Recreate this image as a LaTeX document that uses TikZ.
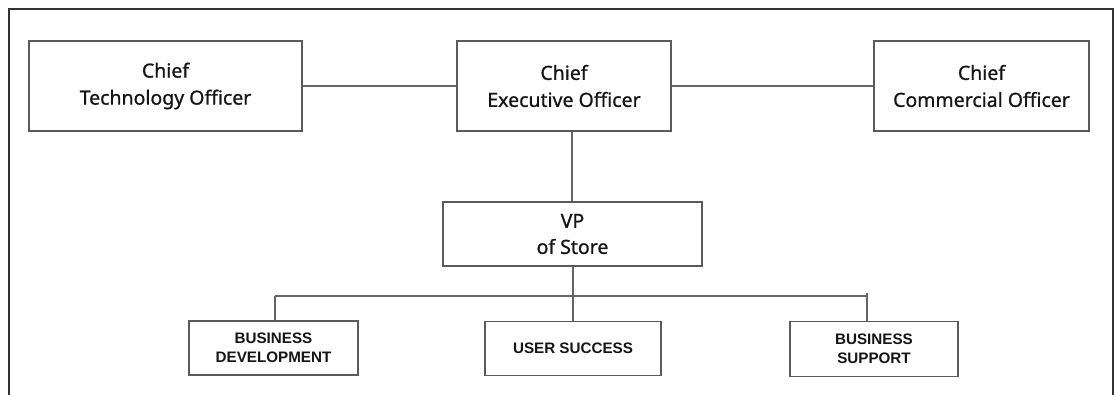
\documentclass[tikz,border=0pt]{standalone}
\usepackage{fontspec}
\setmainfont{Noto Sans}[FakeBold=0.9]
\newfontfamily\boxsans{Liberation Sans}
\definecolor{boxline}{HTML}{5A5A5A}
\definecolor{conline}{HTML}{666666}
\definecolor{frameline}{HTML}{333333}
\definecolor{txt}{HTML}{151515}
\tikzset{
  topbox/.style={draw=boxline, line width=1.4pt, inner sep=0pt, align=center, text=txt,
     font=\fontsize{19.5}{27}\selectfont},
  vpbox/.style={topbox, font=\fontsize{19.5}{26}\selectfont},
  unitbox/.style={draw=boxline, line width=1.4pt, inner sep=0pt, align=center, text=txt,
     minimum height=54pt, font=\boxsans\bfseries\fontsize{15.2}{18.5}\selectfont},
  conn/.style={draw=conline, line width=1.4pt},
}
\begin{document}
\begin{tikzpicture}[x=1pt,y=-1pt]
\useasboundingbox (0,0) rectangle (1114,394);
\draw[frameline, line width=1.8pt] (9,400) -- (9,8.6) -- (1113,8.6) -- (1113,400);
\node[topbox, minimum width=273pt, minimum height=90pt] (cto) at (165.5,86) {Chief\\Technology Officer};
\node[topbox, minimum width=214pt, minimum height=90pt] (ceo) at (564,86) {Chief\\Executive Officer};
\node[topbox, minimum width=215pt, minimum height=90pt] (cco) at (981.5,86) {Chief\\Commercial Officer};
\node[vpbox, minimum width=259pt, minimum height=64pt] (vp) at (572.5,234) {VP\\of Store};
\node[unitbox, minimum width=169pt] (bd) at (273.5,348) {BUSINESS\\DEVELOPMENT};
\node[unitbox, minimum width=176pt] (us) at (573,348.7) {USER SUCCESS};
\node[unitbox, minimum width=168pt, minimum height=55pt] (bs) at (874,349) {BUSINESS\\SUPPORT};
\coordinate (busL) at (275,296);
\coordinate (busR) at (867,296);
\coordinate (tickR) at (867,292.5);
\draw[conn] (cto) -- (ceo);
\draw[conn] (ceo) -- (cco);
\draw[conn] (vp.north -| 572,0) -- (ceo.south -| 572,0);
\draw[conn] (vp.south -| us.north) -- (us.north);
\draw[conn] (busL) -- (busR);
\draw[conn] (busL) -- (busL |- bd.north);
\draw[conn] (tickR) -- (tickR |- bs.north);
\end{tikzpicture}
\end{document}
